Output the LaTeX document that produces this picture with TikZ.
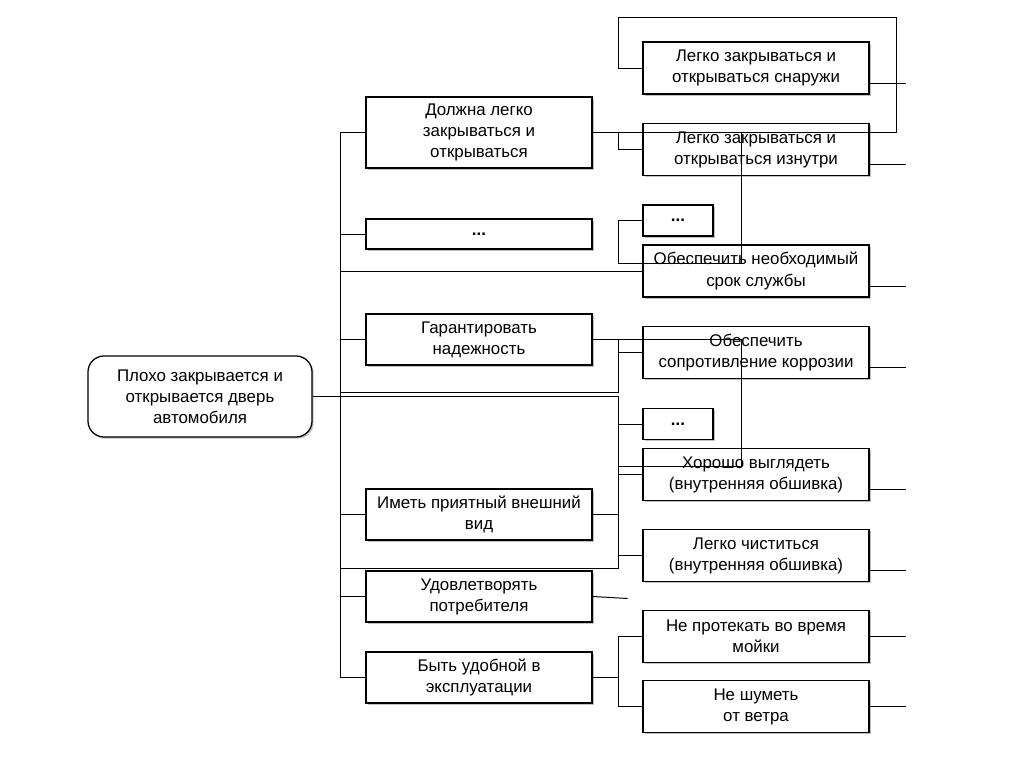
\documentclass[tikz,border=0pt]{standalone}
\usepackage{fontspec}
\setmainfont{Liberation Sans}
\usetikzlibrary{positioning,shadows,calc}

\begin{document}
\begin{tikzpicture}[x={0.025cm}, y={-0.025cm}, every node/.style={font=\fontsize{12}{15}\selectfont}]
\tikzstyle{goal}=[rectangle, draw, line width=0.9pt, fill=white, minimum width=5.65cm, minimum height=1.275cm, align=center, inner sep=1pt, drop shadow={shadow xshift=1.2pt, shadow yshift=-1.2pt, fill=black!35, opacity=.7}]
\tikzstyle{small}=[goal, minimum width=1.75cm, minimum height=0.775cm]
\tikzstyle{conn}=[line width=0.7pt]
\useasboundingbox (0,0) rectangle (1024,768);

% Root
\node[goal, rounded corners=0.4cm, minimum width=5.6cm, minimum height=2.025cm] (root) at (200,396.5) {Плохо закрывается и\\открывается дверь\\автомобиля};

% Middle column
\node[goal, minimum height=1.775cm] (A1) at (479,132.5) {Должна легко\\закрываться и\\открываться};
\node[goal, minimum height=0.75cm] (A2) at (479,234) {\textbf{...}};
\node[goal] (A3) at (479,339.5) {Гарантировать\\надежность};
\node[goal] (A4) at (479,514.5) {Иметь приятный внешний\\вид};
\node[goal] (A5) at (479,596.5) {Удовлетворять\\потребителя};
\node[goal] (A6) at (479,677.5) {Быть удобной в\\эксплуатации};

% Right column
\node[goal, minimum height=1.3cm] (B1) at (756,68) {Легко закрываться и\\открываться снаружи};
\node[goal, minimum height=1.3cm] (B2) at (756,149.5) {Легко закрываться и\\открываться изнутри};
\node[small] (B3) at (678,220.5) {\textbf{...}};
\node[goal, minimum height=1.3cm] (B4) at (756,271) {Обеспечить необходимый\\срок службы};
\node[goal, minimum height=1.3cm] (B5) at (756,352.5) {Обеспечить\\сопротивление коррозии};
\node[small] (B6) at (678,424) {\textbf{...}};
\node[goal, minimum height=1.3cm] (B7) at (756,474.5) {Хорошо выглядеть\\(внутренняя обшивка)};
\node[goal, minimum height=1.3cm] (B8) at (756,555.5) {Легко чиститься\\(внутренняя обшивка)};
\node[goal, minimum height=1.3cm] (B9) at (756,636.5) {Не протекать во время\\мойки};
\node[goal, minimum height=1.3cm] (B10) at (756,706.5) {Не шуметь\\от ветра};

% Junction columns and corners
\coordinate (tk) at (340,0);
\coordinate (rk) at (618,0);
\coordinate (topR) at (896,17);
\coordinate (topL) at (618,17);
\coordinate (midA) at (741,263);
\coordinate (midB) at (741,466);
\coordinate (upl) at (340,392);
\coordinate (lowl) at (340,568);

% Trunk
\draw[conn] (tk |- A1.west) -- (tk |- A6.west);
\foreach \n in {A1,A2,A3,A4,A5,A6}
  \draw[conn] (tk |- \n.west) -- (\n.west);
\draw[conn] (tk |- B4.west) -- (B4.west);

% Root loop
\draw[conn] (root.east) -- (root.east -| rk) |- (lowl);
\draw[conn] (A4.east) -- (A4.east -| rk);

% First group
\draw[conn] (A1.east) -| (topR) -- (topL) |- (B1.west);
\draw[conn] (A1.east -| rk) |- (B2.west);
\draw[conn] (A1.east -| midA) -- (midA) -| (B3.west -| rk) -- (B3.west);

% Reliability group
\draw[conn] (A3.east) -| (midB) -- (midB -| rk);
\draw[conn] (A3.east -| rk) |- (upl);
\draw[conn] (B5.west -| rk) -- (B5.west);
\foreach \n in {B6,B7,B8}
  \draw[conn] (\n.west -| rk) -- (\n.west);

% Remaining
\draw[conn] (A5.east) -- ++(35,2);
\draw[conn] (A6.east) -- (A6.east -| rk);
\draw[conn] (B9.west -| rk) -- (B10.west -| rk);
\foreach \n in {B9,B10}
  \draw[conn] (\n.west -| rk) -- (\n.west);

% Outgoing stubs
\foreach \n in {B1,B2,B4,B5,B7,B8}
  \draw[conn] ($(\n.east)+(0,15)$) -- ++(36,0);
\foreach \n in {B9,B10}
  \draw[conn] (\n.east) -- ++(36,0);
\end{tikzpicture}
\end{document}
